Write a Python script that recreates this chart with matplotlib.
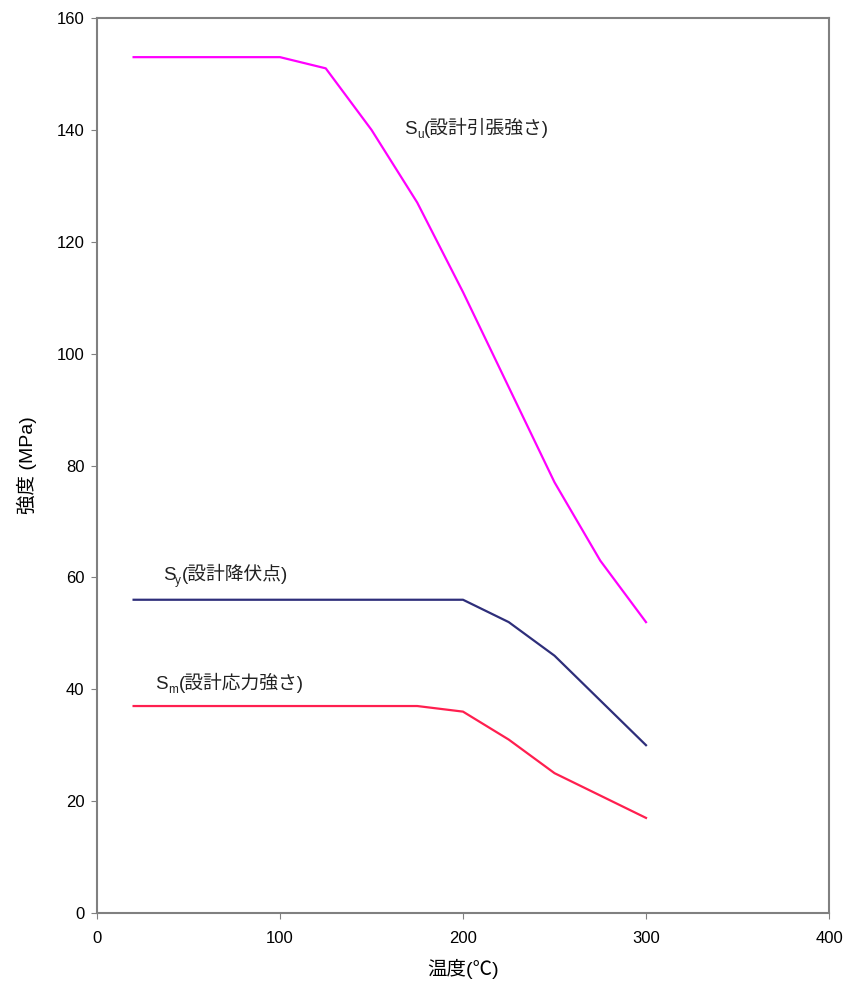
import matplotlib
matplotlib.use("Agg")
import matplotlib.pyplot as plt

plt.rcParams['font.family'] = ['Liberation Sans', 'Noto Sans CJK JP', 'DejaVu Sans']

# temperatures (deg C) and strengths (MPa)
su_temp = [20, 100, 125, 150, 175, 200, 225, 250, 275, 300]
su_vals = [153, 153, 151, 140, 127, 111, 94, 77, 63, 52]

sy_temp = [20, 200, 225, 250, 275, 300]
sy_vals = [56, 56, 52, 46, 38, 30]

sm_temp = [20, 175, 200, 225, 250, 275, 300]
sm_vals = [37, 37, 36, 31, 25, 21, 17]

# curve labels: (main, subscript, rest, x, y)
labels = [
    ("S", "u", "(設計引張強さ)", 168, 139.3),
    ("S", "y", "(設計降伏点)", 36, 59.6),
    ("S", "m", "(設計応力強さ)", 32, 40.1),
]
sub_widths = {"u": 0.556, "y": 0.5, "m": 0.833}

fig = plt.figure(figsize=(8.48, 9.89), dpi=100)
ax = fig.add_axes([97 / 848, 1 - 913 / 989, (829 - 97) / 848, (913 - 18) / 989])

ax.plot(su_temp, su_vals, color="#ff00ff", lw=1.6)
ax.plot(sy_temp, sy_vals, color="#2e2e7a", lw=1.6)
ax.plot(sm_temp, sm_vals, color="#ff1f4f", lw=1.6)

fs = 13.5
sfs = 8.5
for main, sub, rest, x, y in labels:
    ax.annotate(main, xy=(x, y), fontsize=fs, va="baseline", ha="left", color="#222222")
    w_main = 0.667 * fs
    ax.annotate(sub, xy=(x, y), xytext=(w_main, -3), textcoords="offset points",
                fontsize=sfs, va="baseline", ha="left", color="#222222")
    ax.annotate(rest, xy=(x, y), xytext=(w_main + sub_widths[sub] * sfs + 0.5, 0),
                textcoords="offset points", fontsize=fs, va="baseline", ha="left",
                color="#222222")

ax.set_xlim(0, 400)
ax.set_ylim(0, 160)
ax.set_xticks([0, 100, 200, 300, 400])
ax.set_yticks(range(0, 161, 20))
ax.tick_params(labelsize=12, length=4, color="#808080", pad=5)
ax.tick_params(axis="x", pad=9)
for s in ax.spines.values():
    s.set_color("#808080")
    s.set_linewidth(1.5)

ax.set_xlabel("温度(℃)", fontsize=14, labelpad=9)
ax.set_ylabel("強度 (MPa)", fontsize=14, labelpad=14)

fig.savefig("out.png", dpi=100)
